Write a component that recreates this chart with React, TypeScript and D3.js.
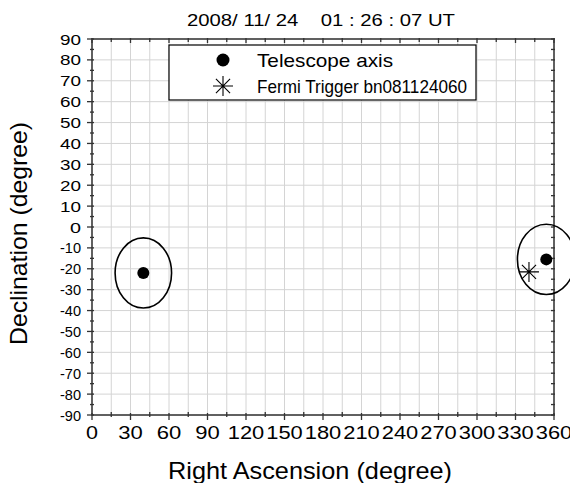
import React from "react";
import * as d3 from "d3";

const title = "2008/ 11/ 24    01 : 26 : 07 UT";
const xTicks = [0, 30, 60, 90, 120, 150, 180, 210, 240, 270, 300, 330, 360];
const yTicks = [90, 80, 70, 60, 50, 40, 30, 20, 10, 0, -10, -20, -30, -40, -50, -60, -70, -80, -90];
const telescopeRA = [40, 354];
const telescopeDec = [-22, -15.5];
const fovRA = [22, 22.5];
const fovDec = [16.8, 16.8];
const fermiRA = [340.5];
const fermiDec = [-21.5];
const legendLabels = ["Telescope axis", "Fermi Trigger bn081124060"];

const W = 570, H = 483;
const L = 92, R = 554, T = 39, B = 415;

function Star({ cx, cy, r }: { cx: number; cy: number; r: number }) {
  const d = [0, 45, 90, 135].map((a) => {
    const rad = (a * Math.PI) / 180;
    const dx = Math.cos(rad) * r, dy = Math.sin(rad) * r;
    return `M${cx - dx},${cy - dy}L${cx + dx},${cy + dy}`;
  }).join("");
  return <path d={d} stroke="#000" strokeWidth={1.1} fill="none" />;
}

export default function App() {
  const x = d3.scaleLinear().domain([0, 360]).range([L, R]);
  const y = d3.scaleLinear().domain([-90, 90]).range([B, T]);
  const xGrid = d3.range(0, 361, 15);
  const yGrid = d3.range(-90, 91, 10);
  const yMinor = d3.range(-85, 90, 10);
  const font = "Liberation Sans, Arial, sans-serif";
  const axisColor = "#333";
  const xw = (v: number) => { const n = String(v).length; return n === 1 ? 12 : n === 2 ? 24.5 : 36.5; };
  const yw = (v: number) => { const n = String(v).length; return n === 1 ? 11 : n === 2 ? 21 : 21; };
  return (
    <svg width={W} height={H} style={{ position: "absolute", left: 0, top: 0, background: "#fff" }} fontFamily={font}>
      <rect x={0} y={0} width={W} height={H} fill="#fff" />
      {xGrid.map((v) => (
        <line key={"gx" + v} x1={x(v)} x2={x(v)} y1={T} y2={B} stroke="#d4d4d4" strokeWidth={1} />
      ))}
      {yGrid.map((v) => (
        <line key={"gy" + v} x1={L} x2={R} y1={y(v)} y2={y(v)} stroke="#d4d4d4" strokeWidth={1} />
      ))}
      <rect x={L} y={T} width={R - L} height={B - T} fill="none" stroke={axisColor} strokeWidth={1.5} />
      {xGrid.map((v) => {
        const major = v % 30 === 0;
        return (
          <g key={"xt" + v}>
            <line x1={x(v)} x2={x(v)} y1={B - (major ? 2 : 3)} y2={B + (major ? 5 : 2)} stroke={axisColor} strokeWidth={1.3} />
            <line x1={x(v)} x2={x(v)} y1={T - 1} y2={T + (major ? 4 : 3)} stroke={axisColor} strokeWidth={1.3} />
          </g>
        );
      })}
      {xTicks.map((v) => (
        <text key={"xl" + v} x={x(v) - xw(v) / 2} y={438.5} fontSize={18.5} fill="#000" textLength={xw(v)} lengthAdjust="spacingAndGlyphs">{v}</text>
      ))}
      {yGrid.map((v) => (
        <g key={"yt" + v}>
          <line x1={L - 5} x2={L + 2} y1={y(v)} y2={y(v)} stroke={axisColor} strokeWidth={1.3} />
          <line x1={R - 3} x2={R + 1} y1={y(v)} y2={y(v)} stroke={axisColor} strokeWidth={1.3} />
        </g>
      ))}
      {yMinor.map((v) => (
        <g key={"ym" + v}>
          <line x1={L - 2} x2={L + 2} y1={y(v)} y2={y(v)} stroke={axisColor} strokeWidth={1.3} />
          <line x1={R - 3} x2={R + 1} y1={y(v)} y2={y(v)} stroke={axisColor} strokeWidth={1.3} />
        </g>
      ))}
      {yTicks.map((v) => (
        <text key={"yl" + v} x={81 - yw(v)} y={y(v) + 5.5} fontSize={15.5} fill="#000" textLength={yw(v)} lengthAdjust="spacingAndGlyphs">{v}</text>
      ))}
      {telescopeRA.map((ra, i) => (
        <g key={"tel" + i}>
          <ellipse cx={x(ra)} cy={y(telescopeDec[i])} rx={x(fovRA[i]) - x(0)} ry={y(0) - y(fovDec[i])} fill="none" stroke="#000" strokeWidth={1.6} />
          <circle cx={x(ra)} cy={y(telescopeDec[i])} r={6} fill="#000" />
        </g>
      ))}
      {fermiRA.map((ra, i) => (
        <Star key={"f" + i} cx={x(ra)} cy={y(fermiDec[i])} r={10} />
      ))}
      <rect x={169} y={45} width={307} height={55} fill="#fff" stroke="#000" strokeWidth={1.2} />
      <circle cx={223} cy={60} r={6.5} fill="#000" />
      <Star cx={223} cy={86} r={10} />
      <text x={257} y={66.5} fontSize={18.5} fill="#000" textLength={136} lengthAdjust="spacingAndGlyphs">{legendLabels[0]}</text>
      <text x={257} y={92.5} fontSize={18.5} fill="#000" textLength={210} lengthAdjust="spacingAndGlyphs">{legendLabels[1]}</text>
      <text x={187} y={26} fontSize={17} fill="#000" style={{ whiteSpace: "pre" }} textLength={268} lengthAdjust="spacingAndGlyphs">{title}</text>
      <text x={168} y={479} fontSize={24} fill="#000" textLength={284} lengthAdjust="spacingAndGlyphs">Right Ascension (degree)</text>
      <text transform={`translate(27,345) rotate(-90)`} fontSize={24} fill="#000" textLength={223} lengthAdjust="spacingAndGlyphs">Declination (degree)</text>
    </svg>
  );
}
